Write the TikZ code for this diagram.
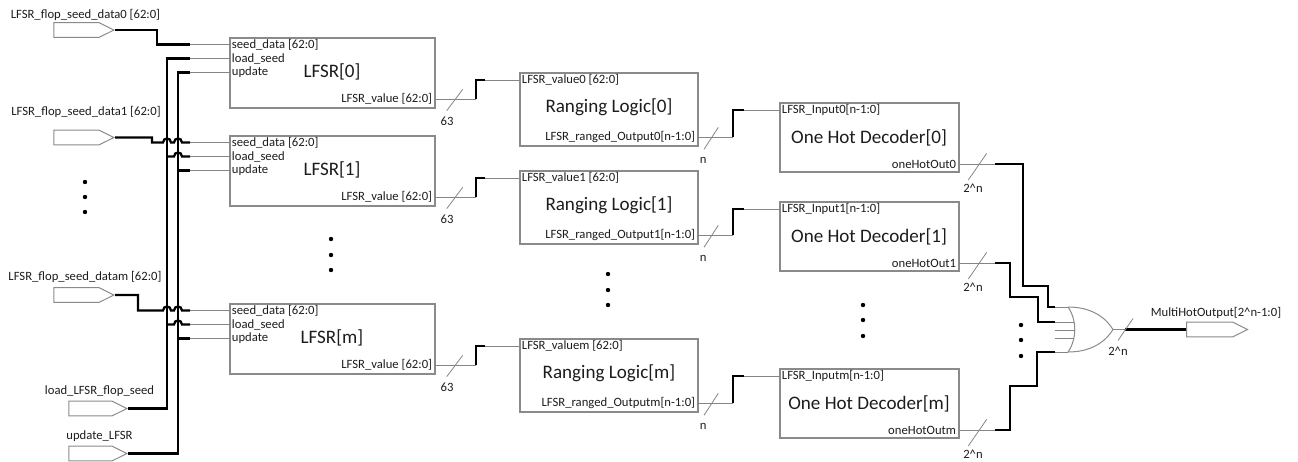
\documentclass[tikz,border=0pt]{standalone}
\usepackage{fontspec}
\setmainfont{Carlito}
\usetikzlibrary{fit,shapes.symbols}

\definecolor{boxgray}{HTML}{8A8A8A}
\definecolor{stubgray}{HTML}{858585}
\definecolor{txt}{HTML}{1C1C1C}

\begin{document}
\begin{tikzpicture}[x=0.75pt,y=-0.75pt,
  box/.style={draw=boxgray, line width=0.8pt, inner sep=0pt},
  wire/.style={line width=1.7pt, black},
  stub/.style={line width=0.75pt, stubgray},
  outline/.style={line width=0.75pt, boxgray},
  slash/.style={line width=0.6pt, stubgray},
  pin/.style={font=\fontsize{9.5}{11}\selectfont, text=txt, inner sep=0.5pt},
  title/.style={font=\fontsize{14.3}{16}\selectfont, text=txt, inner sep=0pt},
  width/.style={font=\fontsize{9.5}{11}\selectfont, text=txt, inner sep=0pt},
  port/.style={signal, signal to=east, draw=boxgray, line width=0.75pt,
    minimum width=45pt, minimum height=11pt, inner sep=0pt,
    signal pointer angle=53},
  dot/.style={circle, fill=black, inner sep=0pt, minimum size=3.3pt},
]
\useasboundingbox (0,0) rectangle (1298,461);

% ---------------- input ports ----------------
\node[port, anchor=east] (in0) at (115,30) {};
\node[port, anchor=east] (in1) at (115,137.5) {};
\node[port, anchor=east] (inm) at (115,295) {};
\node[port, anchor=east, minimum width=43.5pt] (inload) at (128,408.5) {};
\node[port, anchor=east, minimum width=43.5pt] (inupd) at (128,453.5) {};

\node[pin] (lin0) at (85.5,15) {LFSR\_flop\_seed\_data0 [62:0]};
\node[pin] (lin1) at (86,112) {LFSR\_flop\_seed\_data1 [62:0]};
\node[pin] (linm) at (85,277) {LFSR\_flop\_seed\_datam [62:0]};
\node[pin] (linload) at (99.5,391) {load\_LFSR\_flop\_seed};
\node[pin] (linupd) at (99.5,436) {update\_LFSR};

\node[dot] (ld1) at (85,182) {};
\node[dot] (ld2) at (85,197) {};
\node[dot] (ld3) at (85,212) {};

% ---------------- the three pipeline rows ----------------
% index / LFSR top / ranging top / decoder top
\foreach \i/\TL/\TR/\TO in {0/38/73/103, 1/136/171/202, m/304/339/369} {
  % LFSR block
  \node[box, fit={(230,\TL) (435,\TL+70)}] (L\i) {};
  \node[pin, anchor=west] (L\i-sdt) at (231,\TL+6.5) {seed\_data [62:0]};
  \node[pin, anchor=west] (L\i-lst) at (231,\TL+20.5) {load\_seed};
  \node[pin, anchor=west] (L\i-upt) at (231,\TL+34.5) {update};
  \node[title] (L\i-t) at (332,\TL+34) {LFSR[\i]};
  \node[pin, anchor=east] (L\i-vt) at (433,\TL+61) {LFSR\_value [62:0]};
  \coordinate (L\i-sd) at (230,\TL+6.5);
  \coordinate (L\i-ls) at (230,\TL+20.5);
  \coordinate (L\i-up) at (230,\TL+34.5);
  \coordinate (L\i-out) at (435,\TL+61);

  % ranging logic block
  \node[box, fit={(520,\TR) (698,\TR+73)}] (R\i) {};
  \node[pin, anchor=west] (R\i-it) at (521,\TR+7) {LFSR\_value\i\ [62:0]};
  \node[title] (R\i-t) at (609,\TR+34) {Ranging Logic[\i]};
  \node[pin, anchor=east] (R\i-ot) at (696,\TR+64) {LFSR\_ranged\_Output\i[n-1:0]};
  \coordinate (R\i-in) at (520,\TR+7);
  \coordinate (R\i-out) at (698,\TR+64);

  % one hot decoder block
  \node[box, fit={(780,\TO) (959,\TO+69)}] (D\i) {};
  \node[pin, anchor=west] (D\i-it) at (781,\TO+7) {LFSR\_Input\i[n-1:0]};
  \node[title] (D\i-t) at (869,\TO+35) {One Hot Decoder[\i]};
  \node[pin, anchor=east] (D\i-ot) at (957,\TO+61) {oneHotOut\i};
  \coordinate (D\i-in) at (780,\TO+7);
  \coordinate (D\i-out) at (959,\TO+61);

  % LFSR value -> ranging logic (63 bits)
  \draw[stub] (L\i-out) -- (476,\TL+61);
  \draw[wire] (476,\TL+61) -- (476,\TR+7) -- (485,\TR+7);
  \draw[stub] (485,\TR+7) -- (R\i-in);
  \draw[slash] (446.7,\TL+72.7) -- (462.7,\TL+51.3);
  \node[width] (L\i-w) at (447,\TL+83) {63};

  % ranging logic -> decoder (n bits)
  \draw[stub] (R\i-out) -- (733,\TR+64);
  \draw[wire] (733,\TR+64) -- (733,\TO+7) -- (744,\TO+7);
  \draw[stub] (744,\TO+7) -- (D\i-in);
  \draw[slash] (704,\TR+76.3) -- (718.3,\TR+54.3);
  \node[width] (R\i-w) at (703.3,\TR+87) {n};

  % decoder output (2^n bits)
  \draw[stub] (D\i-out) -- (995,\TO+61);
  \draw[slash] (968.3,\TO+77) -- (986.7,\TO+50.3);
  \node[width] (D\i-w) at (973,\TO+85) {2\^{}n};
}

% ---------------- seed, load and update distribution ----------------
\coordinate (j0sd) at (190,44.5);
\coordinate (j0ls) at (190,58.5);
\coordinate (j0up) at (190,72.5);
\coordinate (j1sd) at (190,142.5);
\coordinate (j1ls) at (190,156.5);
\coordinate (j1up) at (190,170.5);
\coordinate (jmsd) at (190,310.5);
\coordinate (jmls) at (190,324.5);
\coordinate (jmup) at (190,338.5);

% seed data
\draw[wire] (in0.east) -- (157,30) -- (157,44.5) -- (j0sd);
\draw[wire] (in1.east) -- (152,137.5) -- (152,142.5) -- (163,142.5)
  .. controls (163,137.2) and (171,137.2) .. (171,142.5) -- (174,142.5)
  .. controls (174,137.2) and (182,137.2) .. (182,142.5) -- (j1sd);
\draw[wire] (inm.east) -- (138,295) -- (138,310.5) -- (163,310.5)
  .. controls (163,305.2) and (171,305.2) .. (171,310.5) -- (174,310.5)
  .. controls (174,305.2) and (182,305.2) .. (182,310.5) -- (jmsd);

% load bus
\draw[wire] (inload.east) -- (167,408.5) -- (167,58.5) -- (j0ls);
\draw[wire] (167,156.5) -- (174,156.5)
  .. controls (174,151.2) and (182,151.2) .. (182,156.5) -- (j1ls);
\draw[wire] (167,324.5) -- (174,324.5)
  .. controls (174,319.2) and (182,319.2) .. (182,324.5) -- (jmls);

% update bus
\draw[wire] (inupd.east) -- (178,453.5) -- (178,72.5) -- (j0up);
\draw[wire] (178,170.5) -- (j1up);
\draw[wire] (178,338.5) -- (jmup);

% short stubs into the LFSR pins
\foreach \i in {0,1,m} {
  \draw[stub] (j\i sd) -- (L\i-sd);
  \draw[stub] (j\i ls) -- (L\i-ls);
  \draw[stub] (j\i up) -- (L\i-up);
}

% ---------------- vertical ellipses ----------------
\node[dot] (cd1) at (331,239) {};
\node[dot] (cd2) at (331,255) {};
\node[dot] (cd3) at (331,270) {};
\node[dot] (rd1) at (608,274) {};
\node[dot] (rd2) at (608,290) {};
\node[dot] (rd3) at (608,305) {};
\node[dot] (od1) at (863,305) {};
\node[dot] (od2) at (863,320) {};
\node[dot] (od3) at (863,336) {};
\node[dot] (gd1) at (1021,325) {};
\node[dot] (gd2) at (1021,340) {};
\node[dot] (gd3) at (1021,356) {};

% ---------------- OR gate ----------------
\draw[outline] (1068,307) .. controls (1077,320) and (1077,339) .. (1068,352);
\draw[outline] (1068,307) .. controls (1092,307) and (1106,318) .. (1113,329.5);
\draw[outline] (1068,352) .. controls (1092,352) and (1106,341) .. (1113,329.5);
\coordinate (orout) at (1113,329.5);
\coordinate (or1) at (1068,307);
\coordinate (or2) at (1073.5,322);
\coordinate (or3) at (1074.5,330);
\coordinate (or4) at (1074,338);
\coordinate (or5) at (1068,352);

\draw[wire] (995,164) -- (1023,164) -- (1023,286) -- (1048,286) -- (1048,307) -- (1055,307);
\draw[stub] (1055,307) -- (or1);
\draw[wire] (995,263) -- (1010,263) -- (1010,297) -- (1038,297) -- (1038,322) -- (1055,322);
\draw[stub] (1055,322) -- (or2);
\draw[stub] (1055,330) -- (or3);
\draw[stub] (1055,338) -- (or4);
\draw[wire] (995,430) -- (1010,430) -- (1010,386) -- (1037,386) -- (1037,352) -- (1055,352);
\draw[stub] (1055,352) -- (or5);

% ---------------- output ----------------
\node[port, anchor=west, minimum width=45.75pt] (outp) at (1186,329.5) {};
\node[pin] (loutp) at (1216,312.5) {MultiHotOutput[2\^{}n-1:0]};
\draw[stub] (orout) -- (1125,329.5);
\draw[wire] (1125,329.5) -- (outp.west);
\draw[slash] (1118,340.5) -- (1133,318.5);
\node[width] (orw) at (1118,351) {2\^{}n};

\end{tikzpicture}
\end{document}
